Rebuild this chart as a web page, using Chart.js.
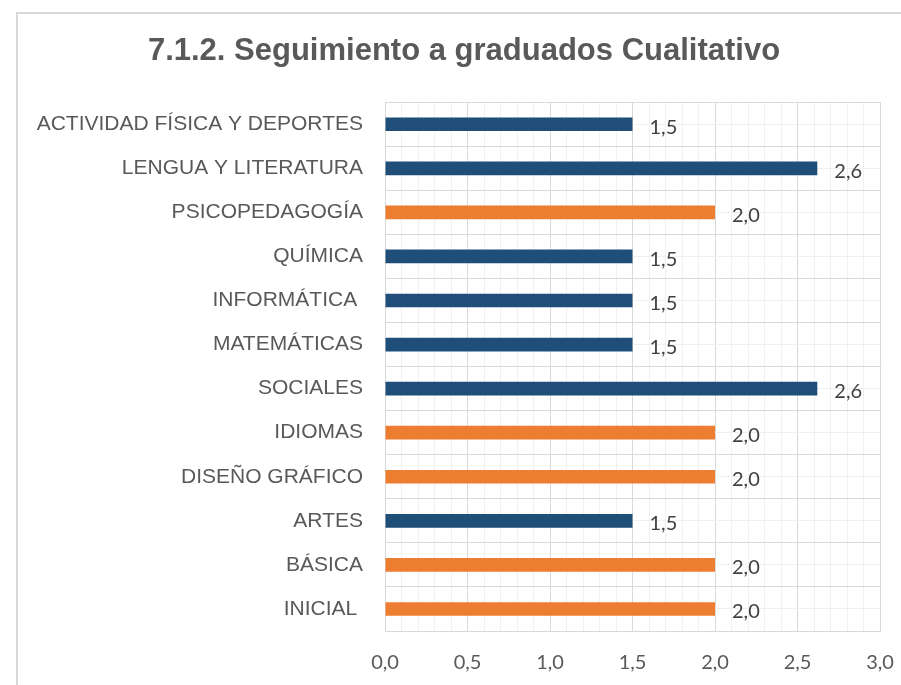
<!DOCTYPE html>
<html><head><meta charset="utf-8">
<script src="https://cdn.jsdelivr.net/npm/chart.js@4/dist/chart.umd.min.js"></script>
<style>
html,body{margin:0;padding:0;background:#fff;overflow:hidden;width:901px;height:685px;}
#frame{position:absolute;left:16px;top:12px;width:1000px;height:800px;border-left:2px solid #d9d9d9;border-top:2px solid #d9d9d9;}
#wrap{position:absolute;left:0;top:0;width:901px;height:685px;}
</style></head><body>
<div id="frame"></div>
<div id="wrap"><canvas id="c" width="901" height="685"></canvas></div>
<script>
const chartTitle = '7.1.2. Seguimiento a graduados Cualitativo';
const categories = ['ACTIVIDAD FÍSICA Y DEPORTES','LENGUA Y LITERATURA','PSICOPEDAGOGÍA','QUÍMICA','INFORMÁTICA ','MATEMÁTICAS','SOCIALES','IDIOMAS','DISEÑO GRÁFICO','ARTES','BÁSICA','INICIAL '];
const values = [1.5, 2.62, 2.0, 1.5, 1.5, 1.5, 2.62, 2.0, 2.0, 1.5, 2.0, 2.0];
const barColors = ['#1F4E79','#1F4E79','#ED7D31','#1F4E79','#1F4E79','#1F4E79','#1F4E79','#ED7D31','#ED7D31','#1F4E79','#ED7D31','#ED7D31'];
const xTickLabels = ['0,0','0,5','1,0','1,5','2,0','2,5','3,0'];

const isMajor = v => Math.abs(v * 2 - Math.round(v * 2)) < 1e-6;
const fmt = v => v.toFixed(1).replace('.', ',');

const valueLabels = {
  id: 'valueLabels',
  afterDatasetsDraw(chart) {
    const ctx = chart.ctx;
    const meta = chart.getDatasetMeta(0);
    ctx.save();
    ctx.font = '20px Lato';
    ctx.fillStyle = '#404040';
    ctx.textAlign = 'left';
    ctx.textBaseline = 'middle';
    meta.data.forEach((bar, i) => {
      ctx.fillText(fmt(values[i]), bar.x + 17, bar.y + 3);
    });
    ctx.restore();
  }
};

// centre the title over the whole chart frame (which extends past the canvas' right edge)
const titleCentre = {
  id: 'titleCentre',
  afterLayout(chart) {
    if (chart.titleBlock) { chart.titleBlock.left = 48; }
  }
};

function build() {
  new Chart(document.getElementById('c'), {
    type: 'bar',
    data: {
      labels: categories,
      datasets: [{
        data: values,
        backgroundColor: barColors,
        borderWidth: 0,
        barPercentage: 0.31,
        categoryPercentage: 1
      }]
    },
    options: {
      indexAxis: 'y',
      responsive: false,
      animation: false,
      devicePixelRatio: 1,
      layout: { padding: { left: 0, right: 21, top: 0, bottom: 0 } },
      plugins: {
        legend: { display: false },
        tooltip: { enabled: false },
        title: {
          display: true,
          text: chartTitle,
          color: '#595959',
          font: { family: 'Liberation Sans', size: 31, weight: 'bold', lineHeight: 1.2 },
          padding: { top: 33, bottom: 32 }
        }
      },
      scales: {
        x: {
          min: 0, max: 3,
          ticks: {
            stepSize: 0.1,
            autoSkip: false,
            maxRotation: 0,
            padding: 20,
            color: '#595959',
            font: { family: 'Lato', size: 20 },
            callback: v => isMajor(v) ? xTickLabels[Math.round(v * 2)] : ''
          },
          grid: {
            drawTicks: false,
            color: ctx => (ctx.tick && isMajor(ctx.tick.value)) ? '#d9d9d9' : '#f0f0f0'
          },
          border: { display: true, color: '#d9d9d9' },
          afterFit: s => { s.height = 54; s.paddingLeft = 0; s.paddingRight = 0; }
        },
        y: {
          type: 'category',
          offset: true,
          grid: { offset: true, drawTicks: false, color: '#d9d9d9' },
          border: { display: true, color: '#d9d9d9' },
          ticks: { padding: 22, color: '#595959', font: { family: 'Liberation Sans', size: 21 } },
          afterFit: s => { s.width = 385; }
        },
        y2: {
          type: 'category',
          labels: categories,
          position: 'left',
          offset: true,
          grid: { offset: false, drawTicks: false, color: '#f0f0f0' },
          border: { display: false },
          ticks: { display: false },
          afterFit: s => { s.width = 0; }
        }
      }
    },
    plugins: [valueLabels, titleCentre]
  });
}
Promise.all([
  document.fonts.load('20px Lato'),
  document.fonts.load('21px "Liberation Sans"'),
  document.fonts.load('bold 31px "Liberation Sans"')
]).then(build, build);
</script>
</body></html>
